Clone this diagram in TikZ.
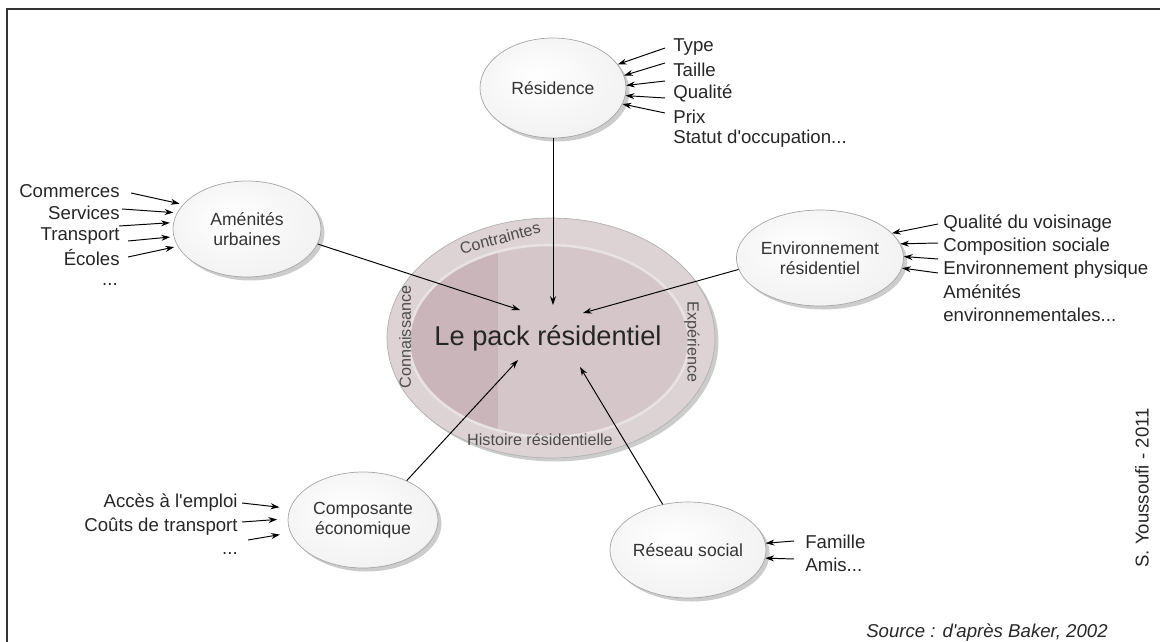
\documentclass[tikz,border=0pt]{standalone}
\usepackage{fontspec}
\setmainfont{Liberation Sans}
\usepackage{tikz}
\usetikzlibrary{arrows.meta,shapes.geometric,shadows,calc}

\definecolor{rim}{RGB}{221,210,212}
\definecolor{packl}{RGB}{201,181,186}
\definecolor{packr}{RGB}{213,198,201}
\pgfdeclareradialshading{bulleshade}{\pgfpoint{-6bp}{6bp}}{color(0bp)=(white);
  color(28bp)=(white!90!gray); color(44bp)=(white!72!gray); color(50bp)=(white!55!gray)}

\tikzset{
  bulle/.style={ellipse, draw=gray!70, thin, shading=bulleshade,
    drop shadow={shadow xshift=2pt, shadow yshift=-2pt, opacity=0.4},
    text=black!80, align=center, inner sep=0pt,
    font=\fontsize{10}{11.5}\selectfont},
  lien/.style={-{Stealth[length=5pt, width=3.4pt]}, line width=0.55pt, black},
  etiq/.style={inner sep=0pt, font=\fontsize{10.6}{13}\selectfont, text=black!85},
  anneau/.style={inner sep=0pt, font=\fontsize{9.2}{11}\selectfont, text=black!70},
}

\begin{document}
\begin{tikzpicture}[x=0.02cm, y=-0.02cm]
    \useasboundingbox (0,0) rectangle (1160,642);
    \draw[black!80, line width=0.7pt] (7,642) -- (7,9) -- (1160,9);

    % le pack residentiel
    \node[ellipse, minimum width=6.56cm, minimum height=4.8cm, fill=rim, draw=gray!60,
        drop shadow={shadow xshift=2pt, shadow yshift=-2pt, opacity=0.4}] (pack) at (551,338) {};
    \begin{scope}
    \clip (549,341) ellipse [x radius=140, y radius=96];
    \fill[packl] (400,240) rectangle (498,440);
    \fill[packr] (498,240) rectangle (700,440);
    \end{scope}
    \draw[white!35!rim, line width=1.5pt] (549,341) ellipse [x radius=140, y radius=96];

    \node[font=\fontsize{15.5}{18}\selectfont, text=black!85] (titre) at (548,338) {Le pack résidentiel};
    \node[anneau, rotate=15] (contr) at (500,238) {Contraintes};
    \node[anneau, rotate=90] (conn) at (405,337) {Connaissance};
    \node[anneau, rotate=-90] (exp) at (692,342) {Expérience};
    \node[anneau] (hist) at (540,440) {Histoire résidentielle};

    % les bulles
    \node[bulle, minimum width=2.92cm, minimum height=2cm] (res) at (553,88) {Résidence};
    \node[bulle, minimum width=2.96cm, minimum height=1.92cm] (ame) at (247,229) {Aménités\\urbaines};
    \node[bulle, minimum width=2.92cm, minimum height=1.92cm] (env) at (820,258) {Environnement\\résidentiel};
    \node[bulle, minimum width=3cm, minimum height=1.92cm] (comp) at (363,520) {Composante\\économique};
    \node[bulle, minimum width=2.72cm, minimum height=1.92cm] (soc) at (688,550) {Réseau social};

    \coordinate (p1) at (553,305);
    \coordinate (p2) at (520,310);
    \coordinate (p3) at (583,313);
    \coordinate (p4) at (518,360);
    \coordinate (p5) at (580,367);
    \draw[lien] (res.south) -- (p1);
    \draw[lien] (ame.-12) -- (p2);
    \draw[lien] (env.188) -- (p3);
    \draw[lien] (comp.42) -- (p4);
    \draw[lien] (soc.119) -- (p5);

    % residence
    \foreach \n/\t/\y in {1/Type/47, 2/Taille/70, 3/Qualité/93, 4/Prix/117}
        \node[etiq, anchor=west] (r\n) at (673,\y) {\t};
    \node[etiq, anchor=west] (r5) at (673,139) {Statut d\textquotesingle occupation...};
    \foreach \i/\y/\a in {1/48/20, 2/63/10, 3/81/2, 4/98/-6, 5/113/-13} {
        \coordinate (rq\i) at (665,\y);
        \draw[lien] (rq\i) -- (res.\a);
    }

    % amenites urbaines
    \foreach \n/\t/\y in {1/Commerces/191, 2/Services/213, 3/Transport/236, 4/Écoles/258}
        \node[etiq, anchor=east] (a\n) at (120,\y) {\t};
    \node[etiq] (a5) at (110,285) {...};
    \foreach \i/\x/\y/\a in {1/131/193/159, 2/122/209/167, 3/119/226/175, 4/128/241/186, 5/128/257/194} {
        \coordinate (aq\i) at (\x,\y);
        \draw[lien, shorten >=2pt] (aq\i) -- (ame.\a);
    }

    % environnement residentiel
    \foreach \n/\t/\y in {1/Qualité du voisinage/224, 2/Composition sociale/247,
        3/Environnement physique/270, 4/Aménités/292}
        \node[etiq, anchor=west] (e\n) at (943,\y) {\t};
    \node[etiq, anchor=west] (e5) at (943,315) {environnementales...};
    \foreach \i/\y/\a in {1/224/19, 2/243/10, 3/259/1, 4/273/-7} {
        \coordinate (eq\i) at (938,\y);
        \draw[lien] (eq\i) -- (env.\a);
    }

    % composante economique
    \node[etiq, anchor=east] (c1) at (238,503) {Accès à l\textquotesingle emploi};
    \node[etiq, anchor=east] (c2) at (238,527) {Coûts de transport};
    \node[etiq] (c3) at (230,553) {...};
    \foreach \i/\x/\y/\a in {1/242/503/171, 2/242/522/179, 3/248/540/190} {
        \coordinate (cq\i) at (\x,\y);
        \draw[lien, shorten >=6pt] (cq\i) -- (comp.\a);
    }

    % reseau social
    \node[etiq, anchor=west] (s1) at (805,542) {Famille};
    \node[etiq, anchor=west] (s2) at (805,565) {Amis...};
    \foreach \i/\y/\a in {1/541/5, 2/559/-6} {
        \coordinate (sq\i) at (794,\y);
        \draw[lien] (sq\i) -- (soc.\a);
    }

    \node[etiq, rotate=90] (auteur) at (1142,488) {S. Youssoufi - 2011};
    \node[etiq, anchor=east, font=\fontsize{10.6}{13}\selectfont\itshape] (source) at (1108,633) {Source : d\textquotesingle après Baker, 2002};
\end{tikzpicture}
\end{document}
